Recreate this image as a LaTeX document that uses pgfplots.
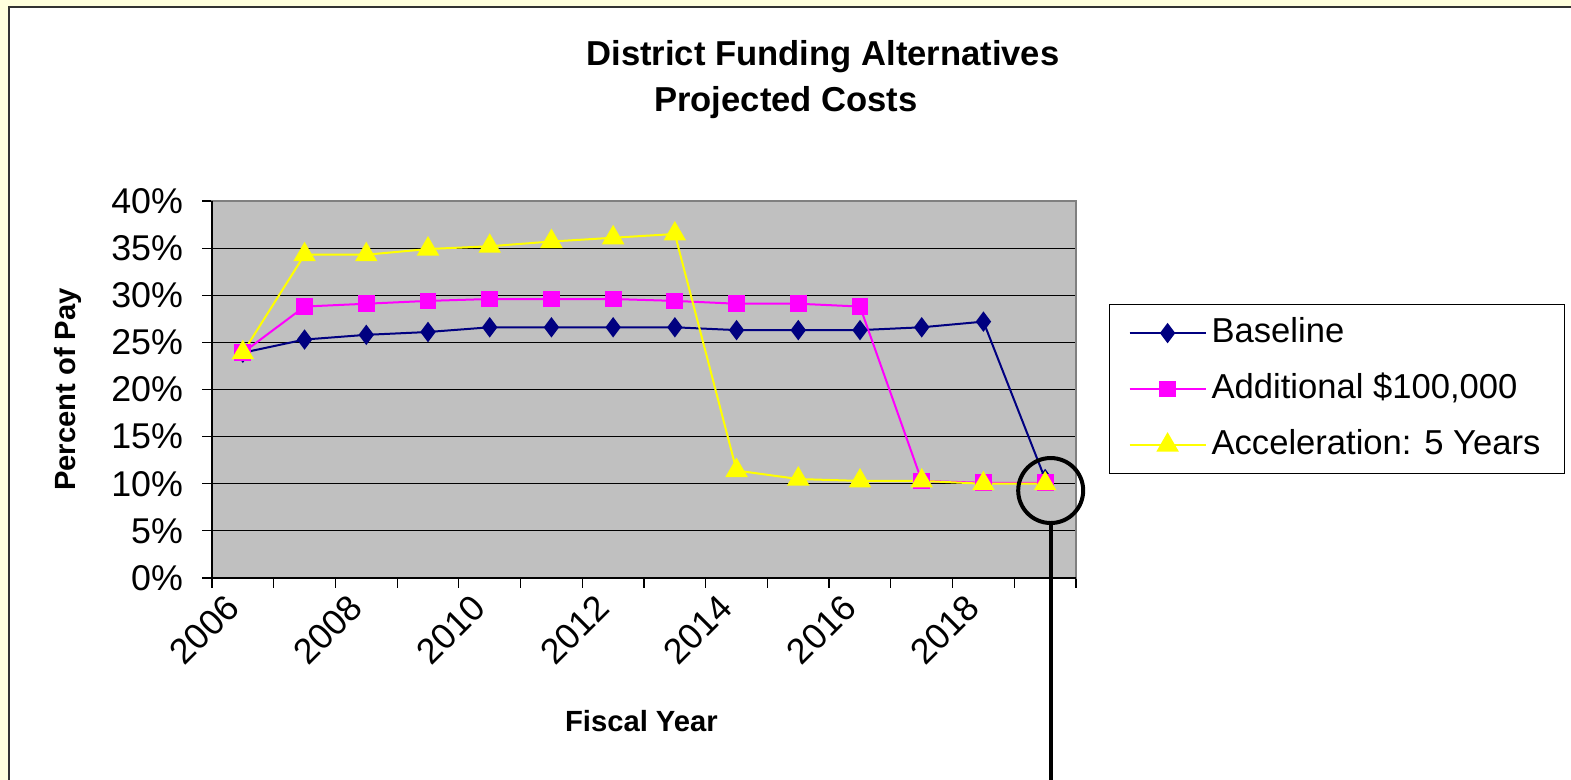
\documentclass[border=0pt]{standalone}
\usepackage{pgfplots}
\pgfplotsset{compat=1.18}
\usepackage{fontspec}
\setmainfont{Liberation Sans}
\definecolor{bg}{HTML}{FFFFDD}
\definecolor{plotgray}{HTML}{C0C0C0}
\definecolor{navyb}{HTML}{000080}
\definecolor{magb}{HTML}{FF00FF}
\definecolor{yelb}{HTML}{FFFF00}
\definecolor{frame}{HTML}{808080}

\begin{document}
\begin{tikzpicture}[x=1pt,y=1pt]
\useasboundingbox (0,0) rectangle (785.5,390);
\fill[bg] (0,0) rectangle (785.5,390);
\fill[white] (4.5,0) rectangle (785.5,386.5);
\draw[line width=1pt, color=black!80] (4.5,0) -- (4.5,386.5) -- (785.5,386.5);
\node[anchor=base, font=\bfseries\fontsize{17.3}{20}\selectfont] at (411.5,357) {District Funding Alternatives};
\node[anchor=base, font=\bfseries\fontsize{17.3}{20}\selectfont] at (393,334) {Projected Costs};
\begin{axis}[
  at={(106pt,101pt)}, anchor=south west, scale only axis,
  width=432pt, height=188.5pt,
  xmin=2006, xmax=2020, ymin=0, ymax=40,
  xtick={2006,...,2020},
  xticklabels={2006,,2008,,2010,,2012,,2014,,2016,,2018,,},
  ytick={0,5,...,40},
  yticklabel={\pgfmathprintnumber{\tick}\%},
  /pgf/number format/assume math mode=true,
  tick align=outside, major tick length=5pt,
  tick style={black, line width=0.6pt},
  xtick pos=left, ytick pos=left,
  axis background/.style={fill=plotgray},
  ymajorgrids, grid style={black, line width=0.6pt},
  axis line style={draw=frame, line width=1pt},
  ticklabel style={font=\fontsize{17.9}{21}\selectfont},
  yticklabel style={xshift=-6pt},
  xticklabel style={rotate=45, anchor=east, yshift=-12pt, xshift=6pt},
  xlabel={Fiscal Year}, ylabel={Percent of Pay},
  label style={font=\bfseries\fontsize{14.6}{17}\selectfont},
  xlabel style={at={(axis description cs:0.497,-0.38)}, anchor=center},
  ylabel style={at={(axis description cs:-0.167,0.5)}, anchor=center},
  clip=false,
  legend style={at={(axis description cs:1.0382,0.7268)}, anchor=north west,
    draw=black, line width=0.6pt, fill=white,
    font=\fontsize{17.3}{20}\selectfont,
    inner xsep=9.5pt, inner ysep=3.75pt, row sep=7pt,
    nodes={text height=13pt, text depth=3.5pt, inner ysep=2.25pt, inner xsep=2.5pt}},
  legend cell align=left,
  legend image code/.code={\draw[mark repeat=2,mark phase=2,#1] plot coordinates {(0pt,0pt) (19pt,0pt) (38pt,0pt)};},
]
\addplot[navyb, line width=1pt, mark=diamond*, mark size=4.3pt, mark options={solid, fill=navyb}] coordinates {
(2006.5,23.9) (2007.5,25.3) (2008.5,25.8) (2009.5,26.1) (2010.5,26.6) (2011.5,26.6) (2012.5,26.6)
(2013.5,26.6) (2014.5,26.3) (2015.5,26.3) (2016.5,26.3) (2017.5,26.6) (2018.5,27.2) (2019.5,10.5)};
\addlegendentry{Baseline}
\addplot[magb, line width=1pt, mark=square*, mark size=3.7pt, mark options={solid, fill=magb}] coordinates {
(2006.5,23.9) (2007.5,28.8) (2008.5,29.1) (2009.5,29.4) (2010.5,29.6) (2011.5,29.6) (2012.5,29.6)
(2013.5,29.4) (2014.5,29.1) (2015.5,29.1) (2016.5,28.8) (2017.5,10.3) (2018.5,10.1) (2019.5,10.1)};
\addlegendentry{Additional \$100,000}
\addplot[yelb, line width=1pt, mark=triangle*, mark size=5.5pt, mark options={solid, fill=yelb}] coordinates {
(2006.5,23.9) (2007.5,34.3) (2008.5,34.3) (2009.5,34.9) (2010.5,35.2) (2011.5,35.7) (2012.5,36.1)
(2013.5,36.5) (2014.5,11.4) (2015.5,10.5) (2016.5,10.3) (2017.5,10.3) (2018.5,10.0) (2019.5,10.0)};
\addlegendentry{Acceleration: 5 Years}
\draw[black, line width=1pt] (rel axis cs:0,1) -- (rel axis cs:0,0) -- (rel axis cs:1,0);
\coordinate (circ) at (axis cs:2019.59,9.28);
\end{axis}
\draw[black, line width=2pt] (circ) circle[radius=16.25];
\draw[black, line width=2pt] ([yshift=-16.25pt]circ) -- (circ |- 0,0);
\end{tikzpicture}
\end{document}
